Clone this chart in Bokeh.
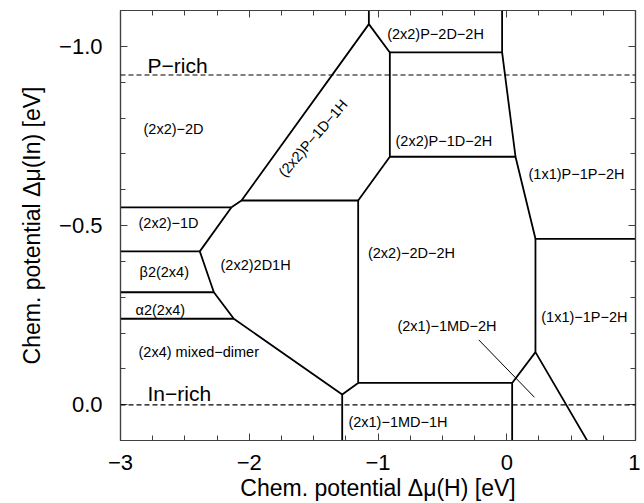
from bokeh.plotting import figure
from bokeh.models import (Range1d, FixedTicker, LinearAxis, Span,
                          CustomJSTickFormatter, ColumnDataSource)
from bokeh.core.properties import value
from bokeh.embed import file_html
from bokeh.resources import INLINE

# ---------------- data (eV) ----------------
x_start, x_end = -3.0, 1.0
y_start, y_end = 0.0996, -1.1

x_major = [-3, -2, -1, 0, 1]
x_minor = [-3.0, -2.75, -2.5, -2.25, -2.0, -1.75, -1.5, -1.25, -1.0,
           -0.75, -0.5, -0.25, 0.0, 0.25, 0.5, 0.75, 1.0]
y_major = [-1.0, -0.5, 0.0]
y_minor = [-1.0, -0.9, -0.8, -0.7, -0.6, -0.5, -0.4, -0.3, -0.2, -0.1, 0.0]

# phase boundaries: Δμ(H) and Δμ(In) of each polyline
bnd_xs = [
    [-3.0, -2.138],
    [-2.138, -2.060, -1.071, -1.071],
    [-2.138, -2.384, -2.275, -2.120, -1.278, -1.278],
    [-3.0, -2.384],
    [-3.0, -2.275],
    [-3.0, -2.120],
    [-2.060, -1.154, -1.154, -1.278],
    [-1.154, -0.908, -0.908, -1.071],
    [-0.908, 0.068],
    [-0.908, -0.036, -0.036],
    [-0.036, 0.068, 0.223, 1.0],
    [0.223, 0.223, 0.625],
    [0.223, 0.042, 0.042],
    [-1.154, 0.042],
]
bnd_ys = [
    [-0.551, -0.551],
    [-0.551, -0.570, -1.062, -1.101],
    [-0.551, -0.428, -0.314, -0.240, -0.029, 0.100],
    [-0.428, -0.428],
    [-0.314, -0.314],
    [-0.240, -0.240],
    [-0.570, -0.570, -0.061, -0.029],
    [-0.570, -0.692, -0.983, -1.062],
    [-0.692, -0.692],
    [-0.983, -0.983, -1.101],
    [-0.983, -0.692, -0.463, -0.463],
    [-0.463, -0.147, 0.100],
    [-0.147, -0.061, 0.100],
    [-0.061, -0.061],
]

pointer_x = [-0.217, 0.215]
pointer_y = [-0.181, -0.021]

rich_levels = [-0.92, 0.0]
rich_names = ["P\u2212rich", "In\u2212rich"]
rich_x = [-2.79, -2.79]
rich_y = [-0.946, -0.031]

phase_names = ["(2x2)\u22122D", "(2x2)\u22121D", "\u03b22(2x4)", "\u03b12(2x4)",
               "(2x4) mixed\u2212dimer", "(2x2)2D1H", "(2x2)\u22122D\u22122H",
               "(2x1)\u22121MD\u22122H", "(2x1)\u22121MD\u22121H", "(1x1)\u22121P\u22122H",
               "(1x1)P\u22121P\u22122H", "(2x2)P\u22121D\u22122H", "(2x2)P\u22122D\u22122H"]
phase_x = [-2.821, -2.860, -2.852, -2.883, -2.860, -2.223, -1.078,
           -0.849, -1.230, 0.268, 0.169, -0.864, -0.929]
phase_y = [-0.770, -0.506, -0.370, -0.265, -0.147, -0.389, -0.423,
           -0.221, 0.048, -0.246, -0.645, -0.737, -1.035]

diag_name = ["(2x2)P\u22121D\u22121H"]
diag_x = [-1.505]
diag_y = [-0.744]
diag_angle = [0.855]

# ---------------- figure ----------------
FONT = "Liberation Sans"
p = figure(width=640, height=503, output_backend="svg", toolbar_location=None,
           x_range=Range1d(x_start, x_end), y_range=Range1d(y_start, y_end),
           min_border_left=120, min_border_right=5, min_border_top=10,
           min_border_bottom=63)
p.xgrid.visible = False
p.ygrid.visible = False
p.outline_line_color = "#404040"
p.outline_line_width = 1.2
p.background_fill_color = "white"
p.border_fill_color = "white"

xt = FixedTicker(ticks=x_major, minor_ticks=x_minor)
yt = FixedTicker(ticks=y_major, minor_ticks=y_minor)
xfmt = CustomJSTickFormatter(code="return tick.toFixed(0).replace('-', '\\u2212');")
yfmt = CustomJSTickFormatter(code="return tick.toFixed(1).replace('-', '\\u2212');")


def style(ax, show_labels):
    ax.axis_line_color = "#404040"
    ax.axis_line_width = 1.2
    ax.major_tick_line_color = "#404040"
    ax.minor_tick_line_color = "#404040"
    ax.major_tick_in = 7
    ax.major_tick_out = 0
    ax.minor_tick_in = 5
    ax.minor_tick_out = 0
    ax.major_label_text_font = FONT
    ax.axis_label_text_font = FONT
    ax.axis_label_text_font_style = "normal"
    ax.axis_label_text_color = "black"
    if show_labels:
        ax.major_label_text_color = "black"
        ax.major_label_text_font_size = "22px"
        ax.axis_label_text_font_size = "23px"
    else:
        ax.major_label_text_color = None
        ax.major_label_text_font_size = "0px"
        ax.major_label_standoff = 0


xa = p.xaxis[0]
xa.ticker = xt
xa.formatter = xfmt
style(xa, True)
xa.major_label_standoff = 14
xa.axis_label = "Chem. potential \u0394\u03bc(H) [eV]"
xa.axis_label_standoff = 2

ya = p.yaxis[0]
ya.ticker = yt
ya.formatter = yfmt
style(ya, True)
ya.major_label_standoff = 18
ya.axis_label = "Chem. potential \u0394\u03bc(In) [eV]"
ya.axis_label_standoff = 11

top = LinearAxis(ticker=xt, formatter=xfmt)
style(top, False)
p.add_layout(top, "above")
right = LinearAxis(ticker=yt, formatter=yfmt)
style(right, False)
p.add_layout(right, "right")

# dashed chemical-potential limits
for lev in rich_levels:
    p.add_layout(Span(location=lev, dimension="width", line_color="black",
                      line_width=1.2, line_dash="5 3"))

# phase boundaries
p.multi_line(xs=bnd_xs, ys=bnd_ys, line_color="black", line_width=1.8)
p.line(pointer_x, pointer_y, line_color="black", line_width=1)

# labels
src = ColumnDataSource(dict(x=phase_x, y=phase_y, t=phase_names))
p.text(x="x", y="y", text="t", source=src, text_font=value(FONT),
       text_font_size=value("14.5px"), text_align="left",
       text_baseline="middle", text_color="black")

dsrc = ColumnDataSource(dict(x=diag_x, y=diag_y, t=diag_name, a=diag_angle))
p.text(x="x", y="y", text="t", angle="a", source=dsrc, text_font=value(FONT),
       text_font_size=value("14.5px"), text_align="center",
       text_baseline="middle", text_color="black")

rsrc = ColumnDataSource(dict(x=rich_x, y=rich_y, t=rich_names))
p.text(x="x", y="y", text="t", source=rsrc, text_font=value(FONT),
       text_font_size=value("21px"), text_align="left",
       text_baseline="middle", text_color="black")

open("out.html", "w").write(file_html(p, INLINE))
